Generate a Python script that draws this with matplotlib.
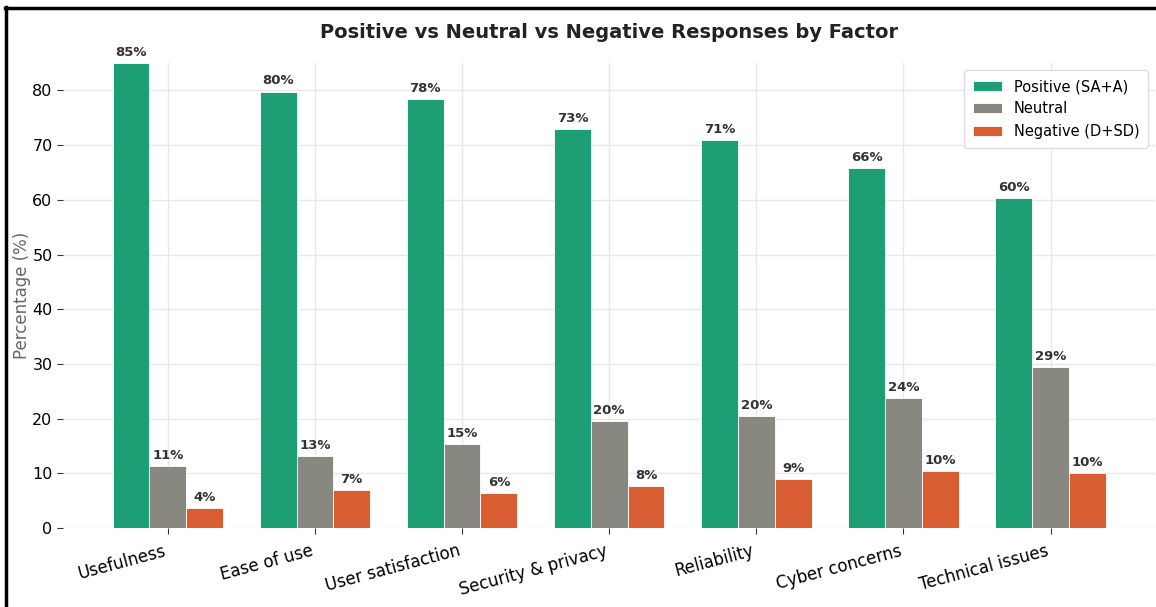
import numpy as np
import matplotlib.pyplot as plt
from matplotlib.lines import Line2D

factors = ["Usefulness", "Ease of use", "User satisfaction", "Security & privacy",
           "Reliability", "Cyber concerns", "Technical issues"]
positive = [85.0, 79.8, 78.4, 72.9, 70.9, 65.8, 60.4]
neutral = [11.3, 13.2, 15.4, 19.6, 20.4, 23.7, 29.4]
negative = [3.6, 6.9, 6.4, 7.7, 8.9, 10.4, 10.0]

series_names = ["Positive (SA+A)", "Neutral", "Negative (D+SD)"]
colors = ["#1e9e75", "#898880", "#d95d33"]

fig = plt.figure(figsize=(11.56, 6.07), dpi=100)
ax = fig.add_axes([0.0545, 0.130, 0.945, 0.766])

x = np.arange(len(factors))
width = 0.25
for i, (vals, name, c) in enumerate(zip([positive, neutral, negative], series_names, colors)):
    bars = ax.bar(x + (i - 1) * width, vals, width, label=name, color=c,
                  edgecolor="white", linewidth=0.6, zorder=3)
    ax.bar_label(bars, fmt="%.0f%%", padding=3, fontsize=9.5, fontweight="bold",
                 color="#333333", clip_on=False)

ax.set_ylim(0, 85)
ax.set_yticks(np.arange(0, 81, 10))
ax.set_xticks(x)
ax.set_xticklabels(factors, rotation=15, ha="right", fontsize=12)
ax.tick_params(axis="y", labelsize=11.5, length=4, color="#333333")
ax.tick_params(axis="x", length=4, color="#333333", pad=6)
ax.set_ylabel("Percentage (%)", fontsize=12, color="#666666")
ax.yaxis.set_label_coords(-0.029, 0.5)
ax.set_title("Positive vs Neutral vs Negative Responses by Factor", fontsize=14,
             fontweight="bold", color="#222222", pad=18)

ax.grid(True, color="#e8e8e8", linewidth=1, zorder=0)
ax.set_axisbelow(True)
for s in ax.spines.values():
    s.set_visible(False)

ax.legend(loc="upper right", fontsize=10.5, frameon=True, edgecolor="#dddddd",
          framealpha=1, borderpad=0.6)

# black frame lines on left and top of the screenshot
fig.add_artist(Line2D([6 / 1156, 6 / 1156], [0, 1 - 7 / 607], color="black", linewidth=2.5,
                      transform=fig.transFigure))
fig.add_artist(Line2D([5 / 1156, 1], [1 - 8 / 607, 1 - 8 / 607], color="black", linewidth=2.5,
                      transform=fig.transFigure))

plt.savefig("out.png", dpi=100)
plt.close()
